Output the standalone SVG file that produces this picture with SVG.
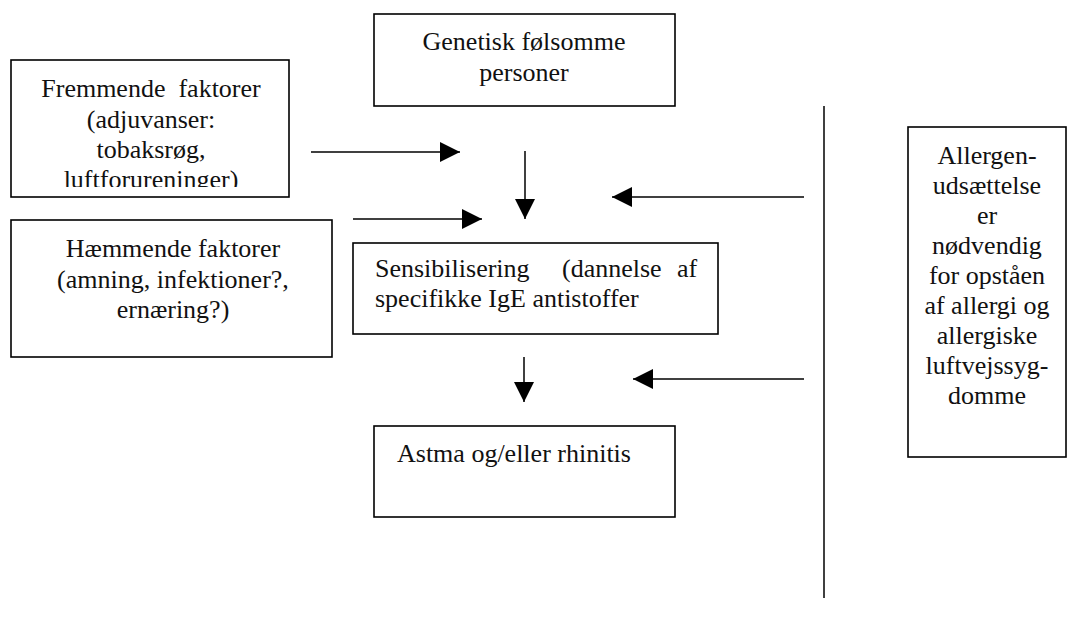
<svg xmlns="http://www.w3.org/2000/svg" width="1069" height="628" viewBox="0 0 1069 628">
<style>
.box{fill:#fff;stroke:#000;stroke-width:1.6}
.t{font-family:"Liberation Serif","Times New Roman",serif;font-size:26px;fill:#111}
.c{text-anchor:middle}
.conn{stroke:#000;stroke-width:1.5;fill:none}
</style>
<defs>
<marker id="ah" markerUnits="userSpaceOnUse" markerWidth="20" markerHeight="20" refX="20" refY="10" orient="auto" viewBox="0 0 20 20">
<path d="M0,0 L20,10 L0,20 z" fill="#000"/>
</marker>
<clipPath id="clipF"><rect x="12" y="61" width="276" height="126"/></clipPath>
</defs>
<g id="fremmende">
<rect class="box" x="11" y="60" width="278" height="137"/>
<g clip-path="url(#clipF)">
<text class="t c" x="151" y="97">Fremmende&#160; faktorer</text>
<text class="t c" x="151" y="128">(adjuvanser:</text>
<text class="t c" x="151" y="158">tobaksrøg,</text>
<text class="t c" x="151" y="188">luftforureninger)</text>
</g>
</g>
<g id="haemmende">
<rect class="box" x="11" y="220" width="321" height="137"/>
<text class="t c" x="173" y="257">Hæmmende faktorer</text>
<text class="t c" x="173" y="288">(amning, infektioner?,</text>
<text class="t c" x="173" y="318">ernæring?)</text>
</g>
<g id="genetisk">
<rect class="box" x="374" y="14" width="301" height="92"/>
<text class="t c" x="524" y="50">Genetisk følsomme</text>
<text class="t c" x="524" y="81">personer</text>
</g>
<g id="sensibilisering">
<rect class="box" x="353" y="243" width="365" height="91"/>
<text class="t" x="375" y="277">Sensibilisering</text>
<text class="t" x="562" y="277">(dannelse</text>
<text class="t" x="677" y="277">af</text>
<text class="t" x="375" y="307">specifikke IgE antistoffer</text>
</g>
<g id="astma">
<rect class="box" x="374" y="426" width="301" height="91"/>
<text class="t" x="397" y="462">Astma og/eller rhinitis</text>
</g>
<g id="allergen">
<rect class="box" x="908" y="127" width="158" height="330"/>
<text class="t c" x="987" y="164">Allergen-</text>
<text class="t c" x="987" y="194">udsættelse</text>
<text class="t c" x="987" y="224">er</text>
<text class="t c" x="987" y="254">nødvendig</text>
<text class="t c" x="987" y="284">for opståen</text>
<text class="t c" x="987" y="314">af allergi og</text>
<text class="t c" x="987" y="344">allergiske</text>
<text class="t c" x="987" y="374">luftvejssyg-</text>
<text class="t c" x="987" y="404">domme</text>
</g>
<g id="connectors">
<line class="conn" x1="824" y1="106" x2="824" y2="598"/>
<line class="conn" x1="311" y1="152" x2="460" y2="152" marker-end="url(#ah)"/>
<line class="conn" x1="525" y1="151" x2="525" y2="219" marker-end="url(#ah)"/>
<line class="conn" x1="804" y1="197" x2="612" y2="197" marker-end="url(#ah)"/>
<line class="conn" x1="353" y1="219" x2="482" y2="219" marker-end="url(#ah)"/>
<line class="conn" x1="524" y1="357" x2="524" y2="402" marker-end="url(#ah)"/>
<line class="conn" x1="804" y1="379" x2="633" y2="379" marker-end="url(#ah)"/>
</g>
</svg>
